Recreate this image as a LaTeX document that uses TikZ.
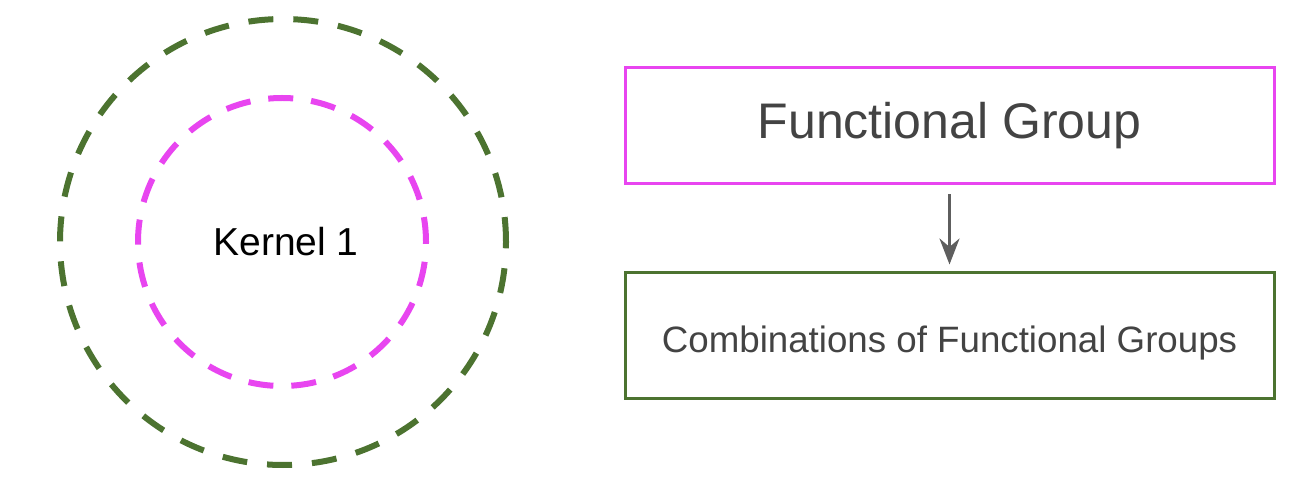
\documentclass[tikz,border=0pt]{standalone}
\usepackage{fontspec}
\setmainfont{Liberation Sans}
\usetikzlibrary{arrows.meta}

\definecolor{kgreen}{HTML}{4C7330}
\definecolor{kpink}{HTML}{E845F0}
\definecolor{kgray}{HTML}{434343}
\definecolor{arrowgray}{HTML}{5E5E5E}

\tikzset{
  ring/.style={circle, draw, line width=6pt, dash pattern=on 25pt off 20pt, inner sep=0pt},
  groupbox/.style={rectangle, draw, line width=3pt, minimum width=649pt, text=kgray, inner sep=0pt},
}

\begin{document}
\begin{tikzpicture}[x=1pt, y=-1pt]
        \useasboundingbox (0,0) rectangle (1316,502);
        % kernel rings
        \node [ring, kgreen, minimum size=446pt] (outer) at (283,242) {};
        \node [ring, kpink, minimum size=288pt, dash pattern=on 25pt off 18pt,
               text=black, font=\fontsize{39}{47}\selectfont] (kernel) at (282,242) {\hspace*{8pt}Kernel 1};
        % groups
        \node [groupbox, kpink, text=kgray, minimum height=116pt,
               font=\fontsize{50}{60}\selectfont] (fg) at (949.5,126) {Functional Group};
        \node [groupbox, kgreen, text=kgray, minimum height=125pt,
               font=\fontsize{36.7}{44}\selectfont] (combo) at (949.5,335.5)
               {\raisebox{-8pt}[\height][\depth]{Combinations of Functional Groups}};
        \draw [arrowgray, line width=3pt, -{Stealth[length=26pt, width=20pt]},
               shorten <=9pt, shorten >=7pt] (fg) -- (combo);
      \end{tikzpicture}
\end{document}
